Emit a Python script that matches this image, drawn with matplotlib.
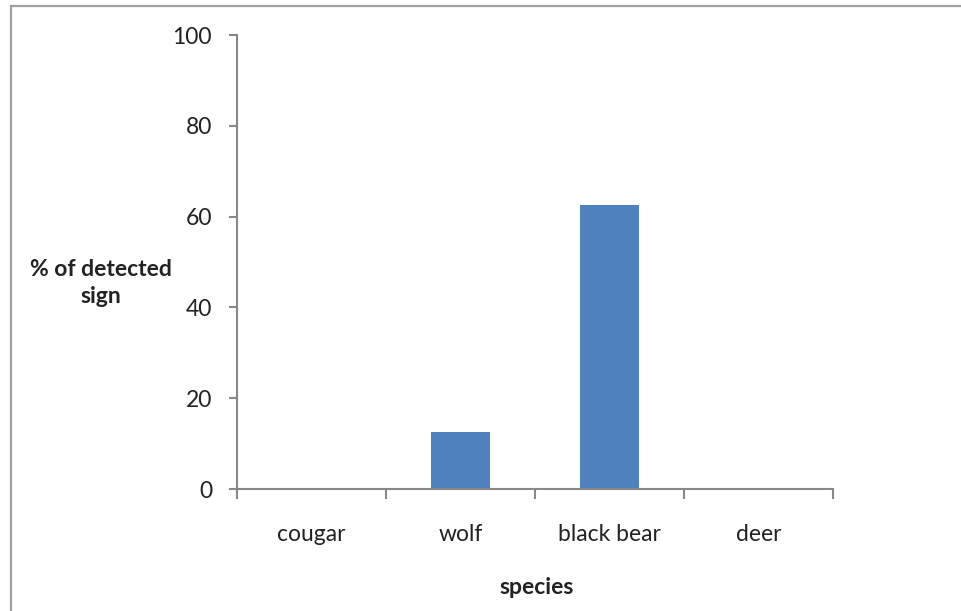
import matplotlib
matplotlib.use("Agg")
import matplotlib.pyplot as plt
from matplotlib.patches import Rectangle
import numpy as np

categories = ["cougar", "wolf", "black bear", "deer"]
values = [0, 12.5, 62.5, 0]
yticks = [0, 20, 40, 60, 80, 100]

plt.rcParams['font.family'] = ['Lato', 'DejaVu Sans']
FS = 16.5

fig = plt.figure(figsize=(9.61, 6.11), dpi=100)
ax = fig.add_axes([237/961, 1-489/611, (833-237)/961, (489-35)/611])

x = np.arange(len(categories))
ax.bar(x, values, width=0.40, color="#4f81bd", zorder=2)

ax.set_xlim(-0.5, len(categories)-0.5)
ax.set_ylim(0, 100)
ax.set_yticks(yticks)
ax.set_yticklabels([str(v) for v in yticks], fontsize=FS, color="#222222")

ax.set_xticks(np.arange(len(categories)+1)-0.5)
ax.set_xticklabels([])
ax.set_xticks(x, minor=True)
ax.set_xticklabels(categories, minor=True, fontsize=FS, color="#222222")
ax.tick_params(axis='x', which='major', length=7, width=1.5, color="#888888", direction='out')
ax.tick_params(axis='x', which='minor', length=0, pad=25)
ax.tick_params(axis='y', length=6, width=1.5, color="#888888", direction='out', pad=12)

for s in ['top', 'right']:
    ax.spines[s].set_visible(False)
for s in ['left', 'bottom']:
    ax.spines[s].set_color("#888888")
    ax.spines[s].set_linewidth(1.5)

fig.text(101/961, 1-283/611, "% of detected\nsign", ha='center', va='center',
         fontsize=FS, fontweight='bold', color="#222222", linespacing=1.35)
fig.text(537/961, 1-587/611, "species", ha='center', va='center',
         fontsize=FS, fontweight='bold', color="#222222")

fig.patches.append(Rectangle((11/961, -0.1), 1.2, 1-6/611+0.1, transform=fig.transFigure,
                             fill=False, edgecolor="#a0a0a0", linewidth=1.6, figure=fig))

fig.savefig("out.png", dpi=100)
